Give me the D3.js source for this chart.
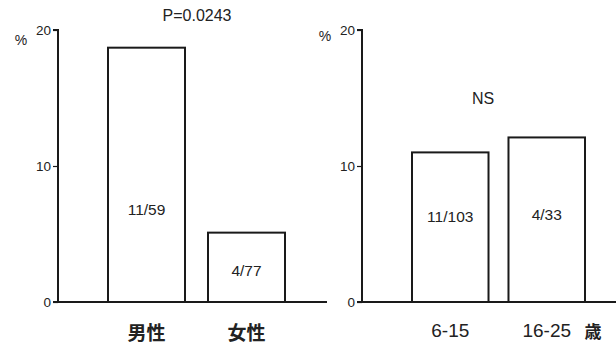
<!DOCTYPE html>
<html><head><meta charset="utf-8">
<script src="https://cdn.jsdelivr.net/npm/d3@7"></script>
<style>body{margin:0;background:#fff;}svg{display:block;}text{font-family:"Liberation Sans",Arial,sans-serif;fill:#222;}</style>
</head><body>
<svg id="c" width="616" height="345"></svg>
<script>
// Data
const sexCategories = ["男性", "女性"];
const sexValues = [18.7, 5.1];
const sexLabels = ["11/59", "4/77"];
const sexLabelAt = [6.4, 1.9];
const ageCategories = ["6-15", "16-25"];
const ageValues = [11.0, 12.1];
const ageLabels = ["11/103", "4/33"];
const ageLabelAt = [5.9, 6.0];
const yTicks = [0, 10, 20];
const sexTitle = "P=0.0243";
const ageTitle = "NS";
const unitLabel = "%";
const ageUnit = "歳";

const svg = d3.select("#c");
const y = d3.scaleLinear().domain([0, 20]).range([302, 30]);
const ink = "#1a1a1a";

function panel(cfg) {
  const g = svg.append("g");
  const x = d3.scaleBand().domain(cfg.cats).range(cfg.barRange).paddingInner(cfg.pad).paddingOuter(0);
  g.append("line").attr("x1", cfg.axisX - 5).attr("x2", cfg.xEnd)
    .attr("y1", y(0)).attr("y2", y(0)).attr("stroke", ink).attr("stroke-width", 2);
  const ax = g.append("g").attr("transform", `translate(${cfg.axisX},0)`)
    .call(d3.axisLeft(y).tickValues(yTicks).tickSize(5).tickPadding(2).tickFormat(d3.format("d")));
  ax.attr("font-size", null).attr("font-family", null);
  ax.select(".domain").attr("stroke", ink).attr("stroke-width", 2).attr("d", `M-5,${y(20)}H0V${y(0)}`);
  ax.selectAll(".tick line").attr("stroke", ink).attr("stroke-width", 1.2);
  ax.selectAll(".tick text").style("font-size", "13.5px").attr("fill", "#222");
  g.selectAll("rect.bar").data(cfg.vals).join("rect").attr("class", "bar")
    .attr("x", (d, i) => x(cfg.cats[i])).attr("width", x.bandwidth())
    .attr("y", d => y(d)).attr("height", d => y(0) - y(d))
    .attr("fill", "#fff").attr("stroke", ink).attr("stroke-width", 2);
  g.selectAll("text.bl").data(cfg.labels).join("text").attr("class", "bl")
    .attr("x", (d, i) => x(cfg.cats[i]) + x.bandwidth() / 2)
    .attr("y", (d, i) => y(cfg.labelAt[i]))
    .attr("text-anchor", "middle").style("font-size", "15.5px").text(d => d);
  g.selectAll("text.cat").data(cfg.cats).join("text").attr("class", "cat")
    .attr("x", d => x(d) + x.bandwidth() / 2).attr("y", cfg.catY)
    .attr("text-anchor", "middle")
    .style("font-family", cfg.catFont).style("font-size", cfg.catSize).style("font-weight", cfg.catWeight)
    .text(d => d);
  g.append("text").attr("x", cfg.axisX - 37).attr("y", cfg.unitY).attr("text-anchor", "middle")
    .style("font-size", "14px").text(unitLabel);
  g.append("text").attr("x", cfg.titleX).attr("y", cfg.titleY).attr("text-anchor", "middle")
    .style("font-size", "16px").text(cfg.title);
  return x;
}

panel({cats: sexCategories, vals: sexValues, labels: sexLabels, labelAt: sexLabelAt,
  barRange: [108, 285], pad: 0.23, axisX: 58, xEnd: 327, catY: 340,
  catFont: "Noto Sans CJK JP", catSize: "19px", catWeight: "bold", unitY: 45, title: sexTitle, titleX: 197, titleY: 21});

panel({cats: ageCategories, vals: ageValues, labels: ageLabels, labelAt: ageLabelAt,
  barRange: [412, 585], pad: 0.207, axisX: 362, xEnd: 616, catY: 337,
  catFont: "Liberation Sans, Arial, sans-serif", catSize: "19px", catWeight: "normal", unitY: 41, title: ageTitle, titleX: 483, titleY: 104});

svg.append("text").attr("x", 593).attr("y", 338).attr("text-anchor", "middle")
  .style("font-family", "Noto Sans CJK JP").style("font-size", "17px").style("font-weight", "bold").text(ageUnit);
</script>
</body></html>
